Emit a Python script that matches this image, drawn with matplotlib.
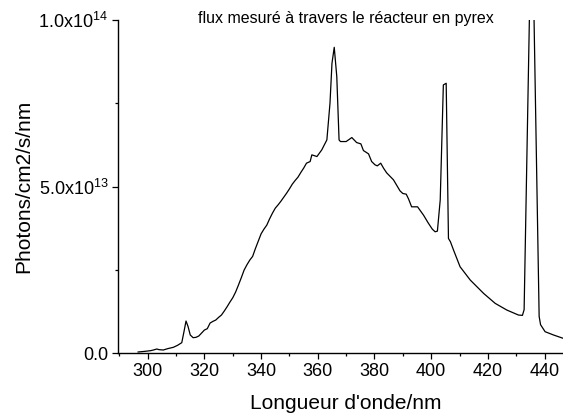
import numpy as np
import matplotlib
matplotlib.use('Agg')
import matplotlib.pyplot as plt
from matplotlib.ticker import MultipleLocator, FixedLocator

plt.rcParams.update({
    'font.family': ['Liberation Sans', 'DejaVu Sans'],
    'mathtext.fontset': 'custom',
    'mathtext.rm': 'Liberation Sans',
    'mathtext.it': 'Liberation Sans:italic',
    'mathtext.bf': 'Liberation Sans:bold',
})

# spectre mesuré (nm, photons/cm2/s/nm en unités de 1e12)
wavelength = [
    296.6, 299.0, 301.0, 302.0, 303.2, 304.0, 305.5, 307.0, 309.0, 310.5,
    312.0, 312.8, 313.5, 314.2, 315.0, 316.0, 317.0, 318.0, 319.0, 320.0,
    321.0, 322.0, 323.0, 324.0, 325.0, 326.0, 327.0, 328.0, 329.0, 330.0,
    331.0, 332.0, 333.0, 334.0, 335.0, 336.0, 337.0, 338.0, 339.0, 340.0,
    341.0, 342.0, 343.0, 344.0, 345.0, 346.0, 347.0, 348.0, 349.0, 350.0,
    351.0, 352.0, 353.0, 354.0, 355.0, 356.0, 357.3, 357.9, 359.7, 361.4,
    363.2, 364.3, 365.0, 365.8, 366.7, 367.5, 368.0, 370.0, 372.0, 373.7,
    375.2, 376.1, 377.9, 379.0, 380.2, 381.0, 382.2, 383.2, 384.3, 386.7,
    389.0, 390.0, 391.2, 392.0, 393.1, 395.2, 397.3, 399.0, 400.4, 401.4,
    402.2, 403.2, 404.3, 405.3, 406.1, 406.8, 407.9, 410.2, 413.8, 418.5,
    422.6, 426.7, 430.8, 432.2, 432.8, 435.5, 438.1, 438.6, 440.2, 443.2,
    446.6, 450.0,
]
flux_e12 = [
    0.3, 0.5, 0.7, 0.9, 1.2, 1.0, 0.9, 1.3, 1.7, 2.3,
    3.1, 6.5, 9.6, 8.0, 5.4, 4.6, 4.7, 5.1, 6.0, 6.9,
    7.3, 9.0, 9.5, 9.9, 10.7, 11.4, 12.6, 13.9, 15.3, 16.6,
    18.3, 20.4, 22.6, 24.9, 26.5, 27.9, 29.0, 31.4, 33.6, 35.8,
    37.2, 38.4, 40.3, 42.0, 43.5, 44.5, 45.6, 46.8, 48.0, 49.3,
    50.7, 51.8, 52.8, 54.2, 55.5, 57.0, 57.5, 59.5, 59.0, 61.0,
    64.0, 75.0, 87.0, 91.8, 83.0, 64.0, 63.5, 63.5, 64.7, 63.2,
    62.8, 60.8, 59.8, 57.5, 56.5, 56.2, 57.0, 55.5, 54.1, 52.0,
    48.7, 47.9, 47.7, 46.3, 43.9, 43.9, 41.4, 39.0, 37.2, 36.4,
    36.6, 46.0, 80.5, 81.0, 34.4, 33.4, 30.9, 25.9, 21.9, 17.9,
    14.9, 12.9, 11.4, 11.3, 13.0, 140.0, 11.0, 8.5, 6.4, 5.4,
    4.4, 3.5,
]

y_ticks = [0.0, 5.0e13, 1.0e14]
y_tick_labels = ['0.0', '5.0x10$^{13}$', '1.0x10$^{14}$']

wl = np.array(wavelength)
flux = np.array(flux_e12) * 1e12

fig = plt.figure(figsize=(5.63, 4.19), dpi=100)
# la droite de l'axe dépasse un peu du cadre
ax = fig.add_axes([118 / 563, 66 / 419, 456 / 563, 333 / 419])

ax.plot(wl, flux, color='black', lw=0.9)

ax.set_xlim(289.5, 450.4)
ax.set_ylim(0, 1.0e14)

ax.xaxis.set_major_locator(MultipleLocator(20))
ax.xaxis.set_minor_locator(MultipleLocator(10))
ax.yaxis.set_major_locator(FixedLocator(y_ticks))
ax.yaxis.set_minor_locator(FixedLocator([2.5e13, 7.5e13]))
ax.set_yticklabels(y_tick_labels)

for side in ['top', 'right']:
    ax.spines[side].set_visible(False)
for side in ['left', 'bottom']:
    ax.spines[side].set_linewidth(1.0)

ax.tick_params(which='major', direction='out', length=4, width=0.9,
               labelsize=13, pad=3)
ax.tick_params(which='minor', direction='out', length=2.5, width=0.9)

ax.set_xlabel("Longueur d'onde/nm", fontsize=15, labelpad=10)
ax.set_ylabel('Photons/cm2/s/nm', fontsize=15, labelpad=4)

fig.text(346 / 563, 1 - 23.5 / 419, 'flux mesuré à travers le réacteur en pyrex',
         ha='center', va='baseline', fontsize=11.5)

fig.savefig('out.png', dpi=100)
